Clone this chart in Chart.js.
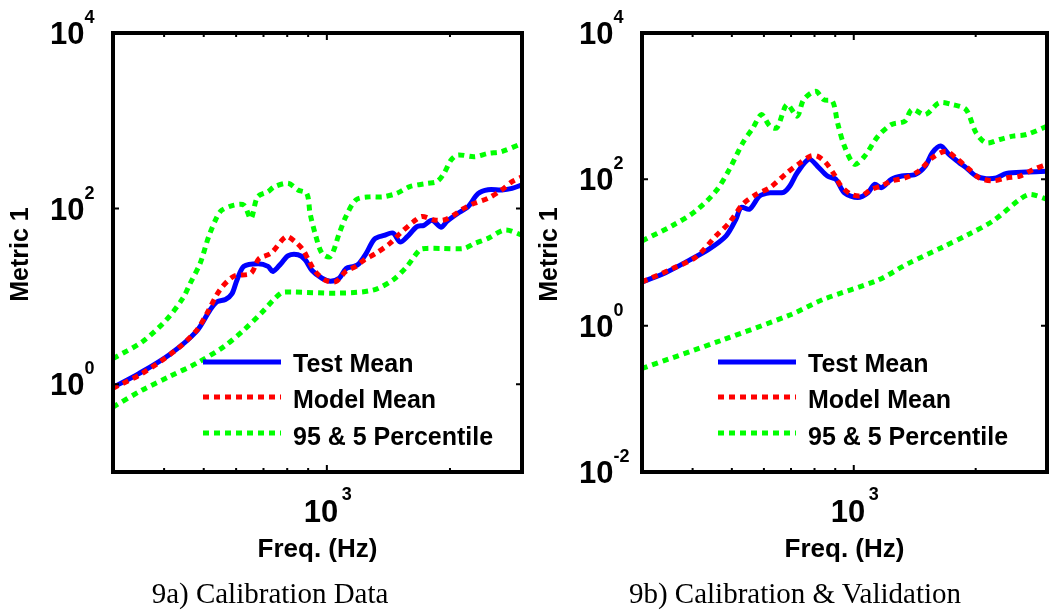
<!DOCTYPE html>
<html>
<head>
<meta charset="utf-8">
<script src="https://cdn.jsdelivr.net/npm/chart.js@4.4.0/dist/chart.umd.min.js"></script>
<style>
  body { margin: 0; background: #fff; width: 1049px; height: 612px; position: relative; overflow: hidden; }
  canvas { position: absolute; top: 0; }
  #chartA { left: 0; }
  #chartB { left: 524px; }
  .caption { position: absolute; top: 579px; font: 29px "Liberation Serif", "Times New Roman", serif; line-height: 29px; white-space: nowrap; transform: translateX(-50%); color: #000; }
</style>
</head>
<body>
<canvas id="chartA" width="525" height="612"></canvas>
<canvas id="chartB" width="525" height="612"></canvas>
<div class="caption" style="left:270px">9a) Calibration Data</div>
<div class="caption" style="left:795px">9b) Calibration &amp; Validation</div>
<script>
// ---- 9a) Calibration Data ----
const freqA_test = [300, 347, 412, 480, 518, 539, 565, 586, 603, 627, 679, 718, 738, 772, 804, 850, 884, 920, 973, 1020, 1072, 1115, 1165, 1198, 1247, 1308, 1380, 1451, 1509, 1570, 1660, 1727, 1808, 1902, 1966, 2088, 2214, 2342, 2478, 2679, 2836, 3000];
const testA = [0.92, 1.32, 2.17, 4.0, 7.0, 8.7, 9.2, 10.7, 15.4, 22, 23.6, 22, 19.2, 23.6, 29.1, 29.8, 26.3, 19.7, 16.1, 14.9, 16.1, 20.8, 22, 23.6, 30.7, 45.1, 49.5, 52.7, 41.7, 47.6, 62.3, 64.4, 73.7, 61.5, 71.7, 88, 105, 147.8, 163.8, 163, 170, 186.8];

const freqA_model = [300, 353, 428, 480, 509, 548, 593, 652, 682, 730, 795, 836, 874, 902, 936, 989, 1050, 1113, 1178, 1233, 1319, 1426, 1509, 1629, 1708, 1828, 1933, 2046, 2163, 2297, 2478, 2674, 2836, 3000];
const modelA = [0.9, 1.32, 2.46, 4.09, 6.4, 11.9, 17, 18.3, 26.9, 31, 47.8, 42, 34, 25.9, 19.3, 15.4, 14.7, 19.3, 22, 25.9, 31, 40.1, 52.1, 71.1, 81.5, 74.2, 74.2, 84.6, 100.6, 114.9, 131, 163, 202.7, 230];

const freqA_p95 = [300, 354, 405, 445, 463, 490, 514, 539, 554, 593, 627, 652, 677, 718, 745, 804, 850, 893, 910, 936, 973, 1020, 1072, 1113, 1178, 1272, 1371, 1481, 1596, 1758, 1859, 1933, 2012, 2088, 2297, 2478, 2674, 3000];
const p95A = [1.96, 3.05, 5.4, 9.6, 14, 23.8, 47.8, 81, 96.3, 109.5, 109.5, 77, 136, 155.7, 178, 194, 163, 149, 88, 52, 31, 28.4, 52, 81, 125.7, 136, 136, 149, 178, 194, 203, 251.6, 357.6, 408, 390, 425, 446, 553];

const freqA_p5 = [300, 354, 412, 480, 560, 627, 690, 772, 819, 1072, 1297, 1451, 1570, 1689, 1758, 1899, 2163, 2297, 2478, 2725, 3000];
const p5A = [0.55, 0.86, 1.22, 1.73, 2.68, 4.15, 6.4, 10.9, 11.2, 10.9, 11.8, 15.4, 22, 34, 35.2, 35.2, 35.2, 40.1, 45.8, 57, 50];

// ---- 9b) Calibration & Validation ----
const freqB_test = [300, 343, 392, 439, 484, 512, 527, 553, 586, 621, 671, 696, 725, 775, 813, 861, 903, 948, 1023, 1084, 1126, 1170, 1240, 1314, 1419, 1503, 1563, 1639, 1719, 1821, 1893, 2004, 2123, 2250, 2382, 2673, 3000];
const testB = [3.95, 5.3, 7.8, 11.1, 16.9, 28.6, 41.3, 39.1, 59.4, 65.4, 66.5, 81.8, 122.8, 188.4, 152, 111, 100.2, 65.4, 56.4, 65.4, 85.6, 77, 100.2, 111, 116.4, 152, 231, 285, 219, 169, 144.4, 111, 102, 104.5, 120.7, 126, 129.3];

const freqB_model = [300, 356, 407, 457, 493, 532, 575, 621, 684, 738, 782, 813, 853, 895, 930, 984, 1043, 1106, 1170, 1240, 1337, 1446, 1563, 1687, 1786, 1929, 2043, 2207, 2382, 2573, 2778, 3000];
const modelB = [3.95, 6.0, 8.6, 16.9, 25.7, 45.7, 62.6, 77, 122.8, 169, 207.6, 207.6, 169, 116.4, 81.2, 62.6, 59.4, 73, 81.2, 95.3, 104.5, 129.3, 197, 242.8, 197, 136.9, 104.5, 95.3, 104.5, 111, 136.9, 160.5];

const freqB_p95 = [300, 356, 407, 457, 493, 532, 564, 592, 621, 646, 684, 725, 752, 805, 843, 886, 912, 948, 1004, 1064, 1148, 1240, 1337, 1392, 1503, 1623, 1752, 1893, 2004, 2123, 2292, 2473, 2673, 3000];
const p95B = [14.4, 23.2, 36.9, 69.4, 136.9, 315, 506.6, 766.6, 531.8, 506.6, 1051, 730, 1228, 1596, 1228, 1168, 591.7, 285.4, 160.5, 207.6, 389.5, 561, 623, 897, 766.6, 1108, 1051, 897, 434, 315, 350, 389.5, 410.6, 531.8];

const freqB_p5 = [300, 475, 698, 843, 1148, 1365, 1654, 1929, 2207, 2573, 2724, 3000];
const p5B = [0.26, 0.64, 1.41, 2.3, 4.2, 7.1, 11.75, 17.9, 27, 53.4, 62.2, 53.4];

// legend entries and decade tick exponents
const legendLabels = ['Test Mean', 'Model Mean', '95 & 5 Percentile'];
const xTickExps = [3];
const yTickExpsA = [0, 2, 4];
const yTickExpsB = [-2, 0, 2, 4];

const SANS = '"Liberation Sans", Arial, Helvetica, sans-serif';

function series(label, xs, ys, color, dashed, order) {
    return {
        label: label,
        data: xs.map((x, i) => ({ x: x, y: ys[i] })),
        borderColor: color,
        backgroundColor: color,
        borderWidth: 5,
        borderDash: dashed ? [6, 5] : [],
        pointRadius: 0,
        tension: 0.3,
        fill: false,
        order: order
    };
}

// box, inner ticks, exponent tick labels, axis titles and legend
function framePlugin(yExps, legendX) {
    return {
        id: 'frame',
        afterDraw(chart) {
            const ctx = chart.ctx, a = chart.chartArea;
            const sx = chart.scales.x, sy = chart.scales.y;
            ctx.save();
            ctx.strokeStyle = '#000';
            ctx.fillStyle = '#000';

            // inner ticks
            ctx.lineWidth = 2;
            ctx.beginPath();
            [400, 500, 600, 700, 800, 900, 1000, 2000].forEach(f => {
                const px = sx.getPixelForValue(f);
                const len = f === 1000 ? 7 : 4;
                ctx.moveTo(px, a.bottom); ctx.lineTo(px, a.bottom - len);
                ctx.moveTo(px, a.top); ctx.lineTo(px, a.top + len);
            });
            yExps.forEach(e => {
                const py = sy.getPixelForValue(Math.pow(10, e));
                ctx.moveTo(a.left, py); ctx.lineTo(a.left + 6, py);
                ctx.moveTo(a.right, py); ctx.lineTo(a.right - 6, py);
            });
            ctx.stroke();

            ctx.lineWidth = 4;
            ctx.strokeRect(a.left, a.top, a.right - a.left, a.bottom - a.top);

            // y tick labels 10^n
            ctx.textAlign = 'left';
            ctx.textBaseline = 'alphabetic';
            yExps.forEach(e => {
                const py = sy.getPixelForValue(Math.pow(10, e));
                const x0 = a.left - 63;
                ctx.font = 'bold 31px ' + SANS;
                ctx.fillText('10', x0, py + 11);
                const w = ctx.measureText('10').width;
                ctx.font = 'bold 18px ' + SANS;
                ctx.fillText(String(e), x0 + w, py - 10);
            });

            // x tick labels
            xTickExps.forEach(e => {
                const px = sx.getPixelForValue(Math.pow(10, e));
                ctx.font = 'bold 31px ' + SANS;
                ctx.fillText('10', px - 23, a.bottom + 50);
                ctx.font = 'bold 18px ' + SANS;
                ctx.fillText(String(e), px + 15, a.bottom + 28);
            });

            // axis titles
            ctx.font = 'bold 26px ' + SANS;
            ctx.textAlign = 'center';
            ctx.fillText('Freq. (Hz)', (a.left + a.right) / 2, 557);
            ctx.save();
            ctx.translate(a.left - 92, (a.top + a.bottom) / 2 + 2);
            ctx.rotate(-Math.PI / 2);
            ctx.font = 'bold 25px ' + SANS;
            ctx.textBaseline = 'middle';
            ctx.fillText('Metric 1', 0, 0);
            ctx.restore();

            // legend
            const lineY = [362, 397, 433];
            const textY = [372, 408, 445];
            ctx.textAlign = 'left';
            ctx.textBaseline = 'alphabetic';
            legendLabels.forEach((lab, i) => {
                const ds = chart.data.datasets[i];
                ctx.strokeStyle = ds.borderColor;
                ctx.lineWidth = ds.borderWidth;
                ctx.setLineDash(ds.borderDash);
                ctx.beginPath();
                ctx.moveTo(legendX, lineY[i]);
                ctx.lineTo(legendX + 78, lineY[i]);
                ctx.stroke();
                ctx.setLineDash([]);
                ctx.font = 'bold 25px ' + SANS;
                ctx.fillStyle = '#000';
                ctx.fillText(lab, legendX + 90, textY[i]);
            });
            ctx.restore();
        }
    };
}

function makeChart(id, datasets, yMin, pad, yExps, legendX) {
    return new Chart(document.getElementById(id), {
        type: 'line',
        data: { datasets: datasets },
        options: {
            responsive: false,
            animation: false,
            events: [],
            layout: { padding: pad },
            plugins: { legend: { display: false }, tooltip: { enabled: false } },
            scales: {
                x: { type: 'logarithmic', min: 300, max: 3000, display: false },
                y: { type: 'logarithmic', min: yMin, max: 10000, display: false }
            }
        },
        plugins: [framePlugin(yExps, legendX)]
    });
}

makeChart('chartA', [
    series(legendLabels[0], freqA_test, testA, '#0000ff', false, 2),
    series(legendLabels[1], freqA_model, modelA, '#ff0000', true, 1),
    series(legendLabels[2], freqA_p95, p95A, '#00ff00', true, 3),
    series(legendLabels[2], freqA_p5, p5A, '#00ff00', true, 3)
], 0.1, { left: 113, right: 3, top: 33, bottom: 140 }, yTickExpsA, 203);

makeChart('chartB', [
    series(legendLabels[0], freqB_test, testB, '#0000ff', false, 2),
    series(legendLabels[1], freqB_model, modelB, '#ff0000', true, 1),
    series(legendLabels[2], freqB_p95, p95B, '#00ff00', true, 3),
    series(legendLabels[2], freqB_p5, p5B, '#00ff00', true, 3)
], 0.01, { left: 118, right: 2, top: 33, bottom: 140 }, yTickExpsB, 194);
</script>
</body>
</html>
